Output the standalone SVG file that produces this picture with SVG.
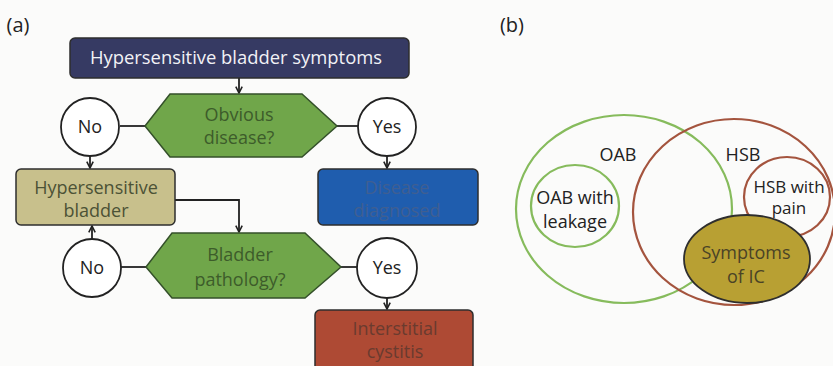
<svg xmlns="http://www.w3.org/2000/svg" width="833" height="366" viewBox="0 0 833 366">
<defs>
<style>
text{font-family:"Open Sans","DejaVu Sans",sans-serif;font-size:18px;text-anchor:middle}
.box{stroke:#2e2e2e;stroke-width:1.5}
.hex{fill:#70a64a;stroke:#34502a;stroke-width:1.5}
.circ{fill:#ffffff;stroke:#222;stroke-width:1.8}
.con{fill:none;stroke:#222;stroke-width:1.8}
.ht{fill:#3d5c2a}
.lbl{fill:#222}
</style>
<marker id="ah" viewBox="0 0 10 10" refX="9" refY="5" markerWidth="8" markerHeight="8" markerUnits="userSpaceOnUse" orient="auto">
<polyline points="1,1 9,5 1,9" fill="none" stroke="#222" stroke-width="2"/>
</marker>
</defs>
<rect width="833" height="366" fill="#fbfbfa"/>
<text x="18" y="32" class="lbl" style="font-size:20px">(a)</text>
<text x="512" y="32" class="lbl" style="font-size:20px">(b)</text>

<g id="connectors">
<path class="con" d="M239,78 V93" marker-end="url(#ah)"/>
<path class="con" d="M120,126 H145"/>
<path class="con" d="M337,126 H358"/>
<path class="con" d="M90,156 V168" marker-end="url(#ah)"/>
<path class="con" d="M387,156 V168" marker-end="url(#ah)"/>
<path class="con" d="M175,200 H239 V232" marker-end="url(#ah)"/>
<path class="con" d="M121,267 H146"/>
<path class="con" d="M341,267 H357"/>
<path class="con" d="M92,239 V226" marker-end="url(#ah)"/>
<path class="con" d="M387,298 V309" marker-end="url(#ah)"/>
</g>

<g id="n-symptoms">
<rect class="box" x="70" y="38" width="339" height="40" rx="5" fill="#363a63"/>
<text x="236" y="64" fill="#f2f2f6" style="font-size:18.4px">Hypersensitive bladder symptoms</text>
</g>
<g id="n-obvious">
<polygon class="hex" points="145,126 170,94 302,94 337,126 302,157 170,157"/>
<text x="239" y="121" class="ht">Obvious</text>
<text x="239" y="144" class="ht">disease?</text>
</g>
<g id="n-no1">
<circle class="circ" cx="90" cy="127" r="29"/>
<text x="90" y="133" class="lbl">No</text>
</g>
<g id="n-yes1">
<circle class="circ" cx="387" cy="127" r="29"/>
<text x="387" y="133" class="lbl">Yes</text>
</g>
<g id="n-hsb">
<rect class="box" x="16" y="169" width="159" height="56" rx="5" fill="#c8c08c"/>
<text x="96" y="194" fill="#4c5236">Hypersensitive</text>
<text x="96" y="217" fill="#4c5236">bladder</text>
</g>
<g id="n-disease">
<rect class="box" x="318" y="169" width="160" height="56" rx="5" fill="#1f5dae"/>
<text x="397" y="194" fill="#3f5f92">Disease</text>
<text x="397" y="217" fill="#3f5f92">diagnosed</text>
</g>
<g id="n-pathology">
<polygon class="hex" points="146,267 172,233 305,233 341,267 305,298 172,298"/>
<text x="240" y="261" class="ht">Bladder</text>
<text x="240" y="286" class="ht">pathology?</text>
</g>
<g id="n-no2">
<circle class="circ" cx="92" cy="268" r="29"/>
<text x="92" y="274" class="lbl">No</text>
</g>
<g id="n-yes2">
<circle class="circ" cx="387" cy="268" r="30"/>
<text x="387" y="274" class="lbl">Yes</text>
</g>
<g id="n-ic">
<rect class="box" x="315" y="310" width="158" height="70" rx="5" fill="#ae4a34"/>
<text x="395" y="335" fill="#6a3b2f">Interstitial</text>
<text x="395" y="358" fill="#6a3b2f">cystitis</text>
</g>

<g id="venn">
<ellipse id="v-oab" cx="624" cy="209" rx="108" ry="94" fill="none" stroke="#86bb5c" stroke-width="2.2"/>
<ellipse id="v-hsb" cx="734" cy="212" rx="101" ry="93" fill="none" stroke="#a4543e" stroke-width="2.2"/>
<ellipse id="v-leak" cx="575" cy="206" rx="44" ry="41" fill="none" stroke="#86bb5c" stroke-width="2.2"/>
<ellipse id="v-pain" cx="787" cy="197" rx="43" ry="40" fill="none" stroke="#a4543e" stroke-width="2.2"/>
<ellipse id="v-ic" cx="747" cy="259" rx="63" ry="44" fill="#b8a033" stroke="#2e2e2e" stroke-width="1.8"/>
<text x="618" y="161" class="lbl">OAB</text>
<text x="743" y="161" class="lbl">HSB</text>
<text x="575" y="204" class="lbl">OAB with</text>
<text x="575" y="228" class="lbl">leakage</text>
<text x="789" y="193" class="lbl" style="font-size:17px">HSB with</text>
<text x="789" y="214" class="lbl" style="font-size:17px">pain</text>
<text x="746" y="259" fill="#4a4326">Symptoms</text>
<text x="746" y="283" fill="#4a4326">of IC</text>
</g>
</svg>
